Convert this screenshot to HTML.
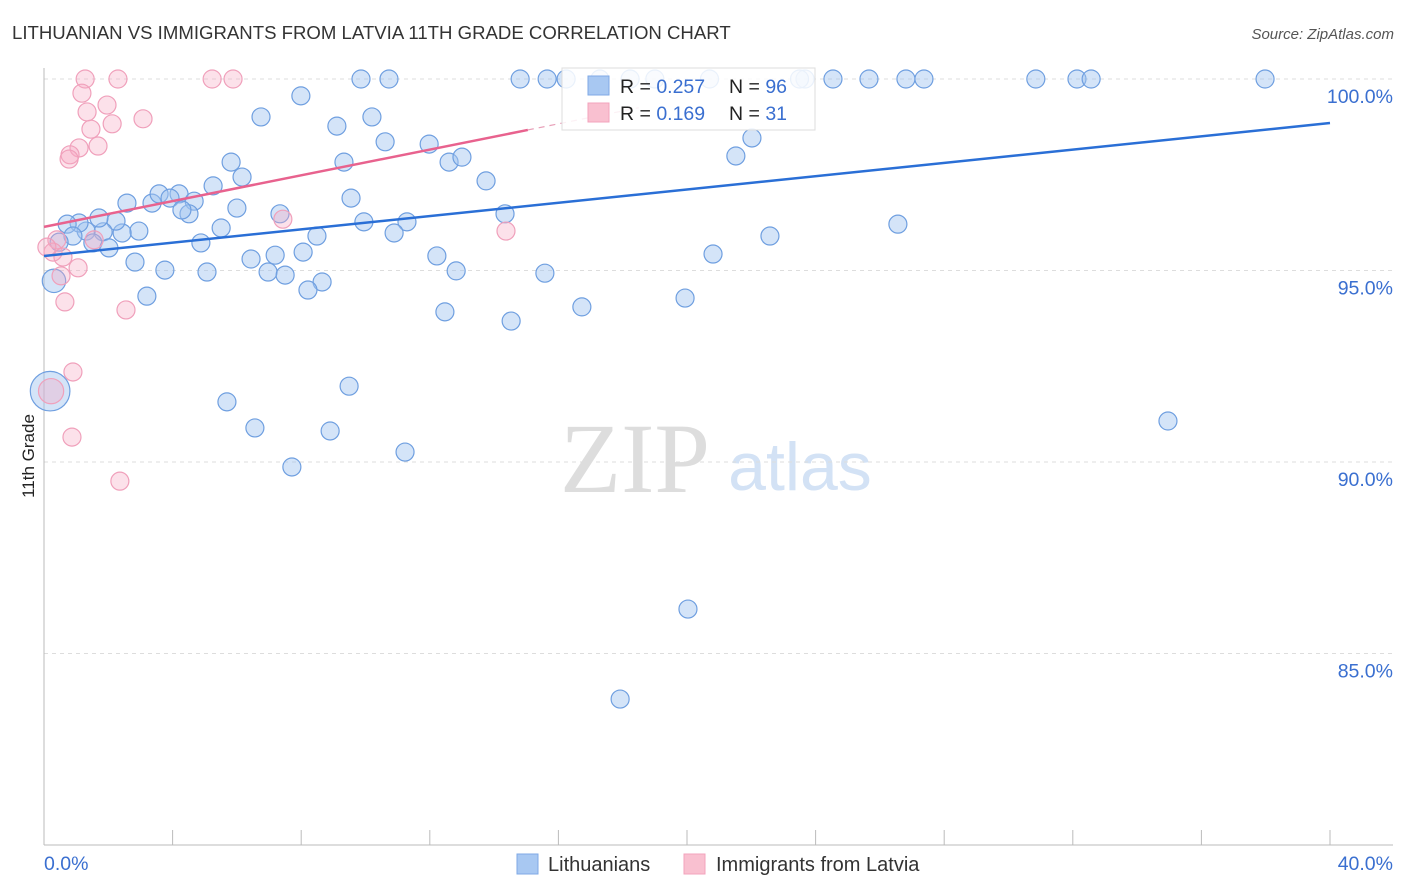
<!DOCTYPE html>
<html><head><meta charset="utf-8"><style>
body{margin:0;background:#fff;font-family:"Liberation Sans",sans-serif;}
svg{display:block}
</style></head><body>
<svg id="chart" width="1406" height="892">
<text x="12" y="39" font-size="18.6" fill="#333">LITHUANIAN VS IMMIGRANTS FROM LATVIA 11TH GRADE CORRELATION CHART</text>
<text x="1394" y="39" font-size="15" fill="#555" font-style="italic" text-anchor="end">Source: ZipAtlas.com</text>
<text x="635" y="492" font-size="100" fill="#ddd" font-family="Liberation Serif,serif" text-anchor="middle">ZIP</text>
<text x="800" y="490" font-size="68" fill="#d3e2f5" text-anchor="middle">atlas</text>
<g id="grid"></g>
<g id="axes"></g>
<g id="pts"></g>
<g id="lines"></g>
<text transform="translate(34,456) rotate(-90)" font-size="17" fill="#222" text-anchor="middle">11th Grade</text>
<g>
<rect x="562" y="68" width="253" height="62" fill="#fff" fill-opacity="0.85" stroke="#ddd"/>
<rect x="588" y="76" width="21" height="19" fill="#a8c8f2" stroke="#7fa9e6"/>
<rect x="588" y="103" width="21" height="19" fill="#f9c0d0" stroke="#f3a3bc"/>
<text x="620" y="93" font-size="19.5" fill="#222">R = <tspan fill="#3a6fd0">0.257</tspan></text>
<text x="729" y="93" font-size="19.5" fill="#222">N = <tspan fill="#3a6fd0">96</tspan></text>
<text x="620" y="120" font-size="19.5" fill="#222">R = <tspan fill="#3a6fd0"> 0.169</tspan></text>
<text x="729" y="120" font-size="19.5" fill="#222">N = <tspan fill="#3a6fd0"> 31</tspan></text>
</g>
<g>
<rect x="517" y="854" width="21" height="20" fill="#a8c8f2" stroke="#7fa9e6"/>
<text x="548" y="871" font-size="20" fill="#333">Lithuanians</text>
<rect x="684" y="854" width="21" height="20" fill="#f9c0d0" stroke="#f3a3bc"/>
<text x="716" y="871" font-size="20" fill="#333">Immigrants from Latvia</text>
</g>
</svg>
<script>
const yTicks=[100,95,90,85];
const yTickLabels=["100.0%","95.0%","90.0%","85.0%"];
const xTickLabels=["0.0%","40.0%"];
const blueX=[9.86,10.73,14.81,15.65,16.24,23.67,24.54,25.66,26.81,27.37,30.85,32.13,32.57,37.98,17.29,18.23,19.0,20.7,23.5,
7.99,6.75,9.11,10.20,10.61,11.98,12.60,13.00,13.75,5.82,6.16,5.26,2.58,3.36,3.58,4.20,3.92,4.67,4.51,4.29,6.00,9.55,7.34,9.33,9.95,11.29,10.89,8.49,14.34,5.51,4.88,2.95,2.43,2.24,1.84,1.71,1.31,1.09,0.72,0.90,0.47,1.52,2.02,6.44,7.19,8.06,2.83,3.76,5.07,6.97,7.50,8.65,8.21,12.22,12.82,15.58,20.81,22.58,26.56,3.20,12.47,14.53,16.73,19.94,0.31,9.49,5.69,6.56,8.90,11.23,7.71,34.96,21.52,22.02,20.03,17.92,0.19];
const blueY=[100,100,100,100,100,100,100,100,100,100,100,100,100,100,100,100,100,100,100,
99.56,99.01,98.77,99.01,98.36,98.30,97.83,97.96,97.34,97.83,97.44,97.21,96.76,96.76,97.00,97.00,96.89,96.81,96.48,96.58,96.63,96.89,96.48,97.83,96.27,96.27,95.98,95.90,96.48,96.11,95.72,96.03,95.98,96.29,96.01,96.37,96.03,96.24,96.21,95.90,95.74,95.72,95.59,95.30,95.40,95.48,95.22,95.01,94.96,94.96,94.88,94.70,94.49,95.38,94.99,94.93,95.43,95.90,96.21,94.33,93.92,93.68,94.05,94.28,94.73,91.98,91.57,90.89,90.81,90.26,89.87,91.07,97.99,98.46,86.16,83.81,91.85];
const blueSize=blueX.map((v,i)=>i===blueX.length-1?2.2:(i===83?1.3:1));
const pinkX=[1.28,2.30,5.23,5.88,1.18,1.96,1.34,3.08,2.12,1.46,1.68,1.09,0.81,0.78,1.56,7.43,14.37,0.40,0.28,0.59,1.06,0.53,0.65,2.55,0.90,0.22,0.87,2.36,0.09];
const pinkY=[100,100,100,100,99.63,99.32,99.14,98.96,98.83,98.69,98.25,98.20,98.02,97.91,95.80,96.34,96.03,95.80,95.48,95.35,95.07,94.86,94.18,93.97,92.35,91.85,90.65,89.50,95.61];
const pinkSize=pinkX.map((v,i)=>i===25?1.4:1);
const blueTrend=[95.38,98.85];
const pinkTrend=[96.14,98.67];
const NS="http://www.w3.org/2000/svg";
const X=v=>44+v*(1286/40);
const Y=v=>79+(100-v)*38.3;
function mk(tag,parent,attrs){const e=document.createElementNS(NS,tag);for(const k in attrs)e.setAttribute(k,attrs[k]);parent.appendChild(e);return e;}
const grid=document.getElementById('grid'),axes=document.getElementById('axes'),pts=document.getElementById('pts'),lines=document.getElementById('lines');
yTicks.forEach((t,i)=>{
 const g=mk('line',grid,{x1:44,x2:1393,y1:Y(t),y2:Y(t),stroke:'#ddd','stroke-dasharray':'4,4'});
 
 
 const l=mk('text',axes,{x:1393,y:Y(t)+24,'font-size':19.5,fill:'#3a6fd0','text-anchor':'end'});
 l.textContent=yTickLabels[i];
 
 
});
let a=mk('line',axes,{x1:44,x2:44,y1:68,y2:845,stroke:'#bbb'});


a=mk('line',axes,{x1:44,x2:1393,y1:845,y2:845,stroke:'#bbb'});


for(let k=1;k<=10;k++){const t=mk('line',axes,{x1:X(k*4),x2:X(k*4),y1:830,y2:845,stroke:'#bbb'});
 
 }
[[0,'start',44],[40,'end',1393]].forEach((d,i)=>{const l=mk('text',axes,{x:d[2],y:870,'font-size':19.5,fill:'#3a6fd0','text-anchor':d[1]});
 l.textContent=xTickLabels[i];
 
 });
blueX.forEach((v,i)=>{const c=mk('circle',pts,{cx:X(v),cy:Y(blueY[i]),r:9*blueSize[i],fill:'rgba(160,195,240,0.45)',stroke:'#6f9fe0','stroke-width':1.2});
 
 });
pinkX.forEach((v,i)=>{const c=mk('circle',pts,{cx:X(v),cy:Y(pinkY[i]),r:9*pinkSize[i],fill:'rgba(245,170,195,0.35)',stroke:'#f0a0bb','stroke-width':1.2});
 
 });
let ln=mk('line',lines,{x1:X(0),y1:Y(blueTrend[0]),x2:X(40),y2:Y(blueTrend[1]),stroke:'#2a6fd6','stroke-width':2.5});


ln=mk('line',lines,{x1:X(0),y1:Y(pinkTrend[0]),x2:X(15.05),y2:Y(pinkTrend[1]),stroke:'#e8628e','stroke-width':2.5});


const sl=(pinkTrend[1]-pinkTrend[0])/15.05;
ln=mk('line',lines,{x1:X(15.05),y1:Y(pinkTrend[1]),x2:X(18.5),y2:Y(pinkTrend[1]+sl*3.45),stroke:'#e8a0b8','stroke-width':1.2,'stroke-dasharray':'6,5'});


</script>
</body></html>
